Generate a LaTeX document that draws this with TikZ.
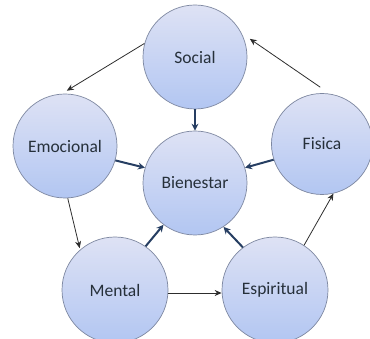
\documentclass[tikz,border=0pt]{standalone}
\usepackage{fontspec}
\setmainfont{Carlito}
\usetikzlibrary{arrows.meta}
\definecolor{circtop}{RGB}{222,226,244}
\definecolor{circbot}{RGB}{178,198,242}
\definecolor{circline}{RGB}{125,135,160}
\definecolor{thickarr}{RGB}{38,62,98}
\definecolor{thinarr}{RGB}{45,45,45}
\definecolor{txt}{RGB}{38,48,58}
\tikzset{
  bubble/.style={circle, minimum size=104pt, inner sep=0pt, draw=circline, line width=0.7pt,
    top color=circtop, bottom color=circbot, text=txt, font=\fontsize{17.5}{19}\selectfont},
  thinarrow/.style={draw=thinarr, line width=0.8pt, -{Stealth[length=7pt,width=6pt]}},
  thickarrow/.style={draw=thickarr, line width=2pt, -{Stealth[length=7pt,width=7pt]}}
}
\begin{document}
\begin{tikzpicture}[x=1pt,y=-1pt]
\useasboundingbox (0,0) rectangle (370,339);
\node[bubble] (social) at (195,57) {Social};
\node[bubble] (bien) at (195,183) {Bienestar};
\node[bubble] (emo) at (65,146) {Emocional};
\node[bubble, minimum size=101pt] (fisica) at (322,144) {Fisica};
\node[bubble, minimum size=106pt] (mental) at (115,290) {Mental};
\node[bubble, minimum size=106pt] (espi) at (275,290) {Espiritual};
% thin cycle arrows
\draw[thinarrow] (social.165) -- ([shift={(0pt,3pt)}]emo.88);
\draw[thinarrow] ([shift={(0pt,6pt)}]fisica.92) -- ([shift={(5pt,2pt)}]social.18);
\draw[thinarrow] (emo.-87) -- ([shift={(-1pt,1pt)}]mental.130);
\draw[thinarrow] ([yshift=-3pt]mental.east) -- ([yshift=-3pt]espi.west);
\draw[thinarrow] (espi.57) -- (fisica.-77);
% thick arrows to center
\draw[thickarrow] (social) -- (bien);
\draw[thickarrow] (emo.-16) -- (bien.163);
\draw[thickarrow] (fisica.198) -- (bien.17);
\draw[thickarrow] (mental.55) -- (bien.233);
\draw[thickarrow] (espi.127) -- (bien.-57);
\end{tikzpicture}
\end{document}
